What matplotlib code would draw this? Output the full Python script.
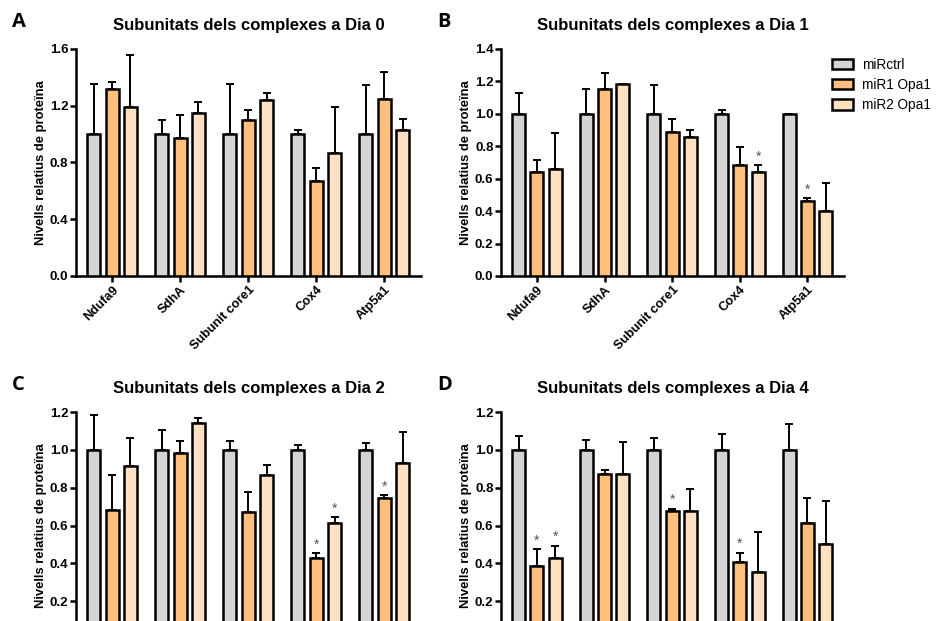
import matplotlib
matplotlib.use("Agg")
import matplotlib.pyplot as plt
from matplotlib.patches import Patch
import numpy as np

plt.rcParams['font.family'] = ['Liberation Sans', 'DejaVu Sans']

genes = ['Ndufa9', 'SdhA', 'Subunit core1', 'Cox4', 'Atp5a1']
groups = ['miRctrl', 'miR1 Opa1', 'miR2 Opa1']
colors = ['#d4d4d4', '#ffbf7f', '#ffe1c2']

# means per panel: rows = groups, cols = genes
dia0_mean = [[1.0, 1.0, 1.0, 1.0, 1.0],
             [1.315, 0.974, 1.096, 0.667, 1.244],
             [1.188, 1.150, 1.239, 0.866, 1.030]]
dia0_err = [[0.352, 0.099, 0.354, 0.026, 0.347],
            [0.049, 0.162, 0.075, 0.096, 0.197],
            [0.368, 0.075, 0.052, 0.324, 0.078]]

dia1_mean = [[1.0, 1.0, 1.0, 1.0, 1.0],
             [0.641, 1.152, 0.889, 0.686, 0.462],
             [0.661, 1.183, 0.860, 0.641, 0.402]]
dia1_err = [[0.131, 0.156, 0.179, 0.021, 0.0],
            [0.074, 0.103, 0.080, 0.111, 0.016],
            [0.222, 0.0, 0.039, 0.041, 0.171]]

dia2_mean = [[1.0, 1.0, 1.0, 1.0, 1.0],
             [0.681, 0.984, 0.674, 0.426, 0.747],
             [0.916, 1.140, 0.865, 0.611, 0.933]]
dia2_err = [[0.184, 0.104, 0.049, 0.028, 0.035],
            [0.186, 0.065, 0.101, 0.027, 0.013],
            [0.149, 0.027, 0.056, 0.033, 0.163]]

dia4_mean = [[1.0, 1.0, 1.0, 1.0, 1.0],
             [0.386, 0.875, 0.677, 0.405, 0.614],
             [0.428, 0.872, 0.677, 0.354, 0.500]]
dia4_err = [[0.074, 0.053, 0.063, 0.082, 0.139],
            [0.088, 0.018, 0.012, 0.051, 0.132],
            [0.065, 0.170, 0.118, 0.211, 0.232]]

# significance marks: (group index, gene index)
dia0_stars = []
dia1_stars = [(2, 3), (1, 4)]
dia2_stars = [(1, 3), (2, 3), (1, 4)]
dia4_stars = [(1, 0), (2, 0), (1, 2), (1, 3)]

panels = [
    ('A', 'Subunitats dels complexes a Dia 0', dia0_mean, dia0_err, dia0_stars, 1.6, [0, 0.4, 0.8, 1.2, 1.6]),
    ('B', 'Subunitats dels complexes a Dia 1', dia1_mean, dia1_err, dia1_stars, 1.4, np.arange(0, 1.41, 0.2)),
    ('C', 'Subunitats dels complexes a Dia 2', dia2_mean, dia2_err, dia2_stars, 1.2, np.arange(0.2, 1.21, 0.2)),
    ('D', 'Subunitats dels complexes a Dia 4', dia4_mean, dia4_err, dia4_stars, 1.2, np.arange(0.2, 1.21, 0.2)),
]

axes_pos = [[0.0812, 0.5556, 0.3686, 0.3655],
            [0.5353, 0.5556, 0.3664, 0.3655],
            [0.0812, -0.0290, 0.3686, 0.3655],
            [0.5353, -0.0290, 0.3664, 0.3655]]

fig = plt.figure(figsize=(9.36, 6.21), dpi=100)

x = np.arange(len(genes))
offset = 0.27
width = 0.19

for (letter, title, mean, err, stars, ymax, yticks), pos in zip(panels, axes_pos):
    ax = fig.add_axes(pos)
    for gi in range(3):
        xs = x + (gi - 1) * offset
        m = np.array(mean[gi])
        e = np.array(err[gi])
        ax.bar(xs, m, width, color=colors[gi], edgecolor='black', linewidth=1.8,
               zorder=3, label=groups[gi])
        ax.errorbar(xs, m, yerr=[np.zeros_like(e), e], fmt='none', ecolor='black',
                    elinewidth=1.4, capsize=3, capthick=1.4, zorder=2)
    for gi, ci in stars:
        xs = x[ci] + (gi - 1) * offset
        top = mean[gi][ci] + err[gi][ci]
        ax.text(xs, top + ymax * 0.008, '*', ha='center', va='bottom', fontsize=10,
                color='#555555')
    ax.set_xlim(-0.53, 4.54)
    ax.set_ylim(0, ymax)
    ax.set_yticks(yticks)
    ax.set_yticklabels(['%.1f' % t for t in yticks], fontsize=9.5, fontweight='bold')
    ax.set_xticks(x)
    if letter in ('A', 'B'):
        ax.set_xticklabels(genes, rotation=45, ha='right', rotation_mode='anchor',
                           fontsize=9.2, fontweight='bold')
    else:
        # the bottom row is cut by the figure edge: labels fall outside
        ax.set_xticklabels([])
    ax.spines['top'].set_visible(False)
    ax.spines['right'].set_visible(False)
    ax.spines['left'].set_linewidth(1.8)
    ax.spines['bottom'].set_linewidth(1.8)
    ax.tick_params(axis='both', width=1.8, length=4, pad=1.5)
    ax.set_ylabel('Nivells relatius de proteïna', fontsize=9.4, fontweight='bold', labelpad=2)
    ax.set_title(title, fontsize=12, fontweight='bold', pad=14)
    ax.text(-0.185, 1.075, letter, transform=ax.transAxes, fontsize=14.5,
            fontweight='bold', family=['Open Sans', 'DejaVu Sans'], va='bottom')

    if letter == 'B':
        handles = [Patch(facecolor=c, edgecolor='black', linewidth=1.8) for c in colors]
        ax.legend(handles, groups, loc='upper left', bbox_to_anchor=(0.95, 0.985),
                  frameon=False, fontsize=9.8, handlelength=1.5, handleheight=0.8,
                  handletextpad=0.7, labelspacing=0.45, borderaxespad=0)

fig.savefig('out.png', dpi=100)
